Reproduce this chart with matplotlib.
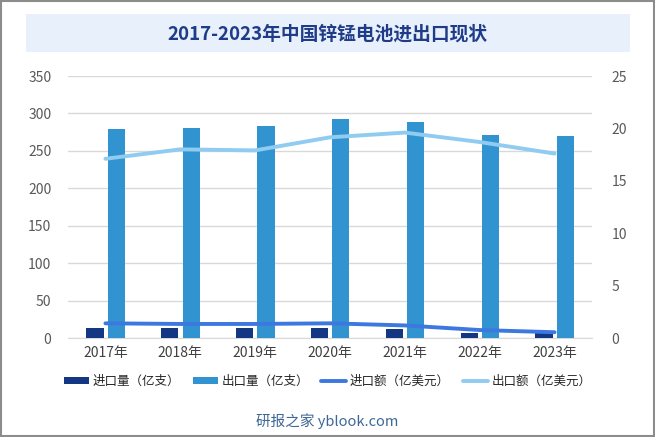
import numpy as np
import matplotlib.pyplot as plt
from matplotlib.patches import Rectangle

plt.rcParams['font.family'] = ['Noto Sans CJK SC', 'DejaVu Sans']

# 数据
years = ['2017年', '2018年', '2019年', '2020年', '2021年', '2022年', '2023年']
import_qty = [13.4, 13.2, 13.2, 13.4, 12.0, 7.0, 6.2]        # 进口量（亿支）
export_qty = [279, 280, 283, 292, 288, 271, 270]            # 出口量（亿支）
import_amt = [1.40, 1.34, 1.34, 1.40, 1.20, 0.76, 0.55]     # 进口额（亿美元）
export_amt = [17.1, 18.0, 17.9, 19.15, 19.6, 18.7, 17.6]    # 出口额（亿美元）

c_imp_bar = '#133782'
c_exp_bar = '#3194D0'
c_imp_line = '#3C78DF'
c_exp_line = '#90CBF1'
c_tick = '#595959'

fig = plt.figure(figsize=(6.55, 4.37), dpi=100)

# 外框
fig.patches.append(Rectangle((0.0015, 0.002), 0.997, 0.996, transform=fig.transFigure,
                             fill=False, edgecolor='#8C8C8C', linewidth=1.5))
# 标题底色
fig.patches.append(Rectangle((26 / 655, 1 - 52 / 437), 604 / 655, 38 / 437,
                             transform=fig.transFigure, facecolor='#E8F0FB',
                             edgecolor='none'))
fig.text(0.5, 1 - 34 / 437, '2017-2023年中国锌锰电池进出口现状', ha='center', va='center',
         fontsize=13.5, fontweight='bold', color='#1F3C88')

ax = fig.add_axes([68 / 655, 1 - 338 / 437, 524 / 655, 262 / 437])
ax2 = ax.twinx()

x = np.arange(len(years))
w = 0.23
b1 = ax.bar(x - 0.14, import_qty, width=w, color=c_imp_bar, label='进口量（亿支）', zorder=3)
b2 = ax.bar(x + 0.145, export_qty, width=w, color=c_exp_bar, label='出口量（亿支）', zorder=3)

l1, = ax2.plot(x, import_amt, color=c_imp_line, lw=2.8, label='进口额（亿美元）',
               solid_capstyle='round')
l2, = ax2.plot(x, export_amt, color=c_exp_line, lw=2.8, label='出口额（亿美元）',
               solid_capstyle='round')

ax.set_xlim(-0.5, len(years) - 0.5)
ax.set_ylim(0, 350)
ax.set_yticks(range(0, 351, 50))
ax2.set_ylim(0, 25)
ax2.set_yticks(range(0, 26, 5))
ax.set_xticks(x)
ax.set_xticklabels(years)

ax.grid(axis='y', color='#D9D9D9', linewidth=1, zorder=0)
ax.set_axisbelow(True)
for a in (ax, ax2):
    for s in a.spines.values():
        s.set_visible(False)
ax.spines['bottom'].set_visible(True)
ax.spines['bottom'].set_color('#D9D9D9')

ax.tick_params(axis='both', length=0, labelsize=10, colors='#404040')
ax.tick_params(axis='y', pad=12, colors=c_tick)
ax.tick_params(axis='x', pad=6)
ax2.tick_params(axis='y', length=0, labelsize=10, colors=c_tick, pad=14)

fig.legend([b1, b2, l1, l2], [h.get_label() for h in (b1, b2, l1, l2)],
           loc='center', bbox_to_anchor=(0.5, 1 - 381 / 437), ncol=4, frameon=False,
           fontsize=9, handlelength=2.0, handleheight=0.5, handletextpad=0.3,
           columnspacing=1.0, labelcolor='#262626')

fig.text(0.5, 1 - 421 / 437, '研报之家 yblook.com', ha='center', va='center',
         fontsize=10.5, color='#3D6796')

fig.savefig('out.png', dpi=100)
